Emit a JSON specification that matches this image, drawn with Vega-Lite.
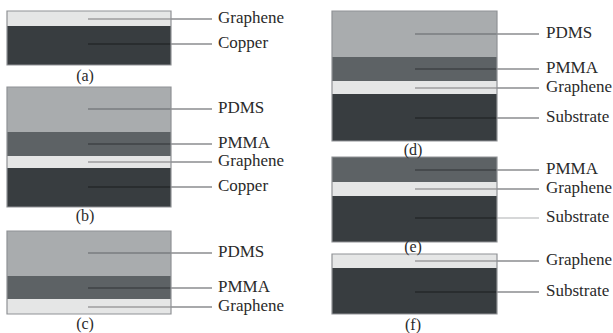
{
  "$schema": "https://vega.github.io/schema/vega-lite/v6.json",
  "width": 613,
  "height": 333,
  "autosize": {"type": "fit", "contains": "padding"},
  "padding": 0,
  "background": "#ffffff",
  "config": {"view": {"stroke": null}},
  "datasets": {
    "layers": [
      {"panel": "a", "layer": "Graphene", "x0": 7, "x1": 171, "y0": 11, "y1": 26},
      {"panel": "a", "layer": "Copper", "x0": 7, "x1": 171, "y0": 26, "y1": 65},
      {"panel": "b", "layer": "PDMS", "x0": 7, "x1": 171, "y0": 87, "y1": 132},
      {"panel": "b", "layer": "PMMA", "x0": 7, "x1": 171, "y0": 132, "y1": 156},
      {"panel": "b", "layer": "Graphene", "x0": 7, "x1": 171, "y0": 156, "y1": 168},
      {"panel": "b", "layer": "Copper", "x0": 7, "x1": 171, "y0": 168, "y1": 207},
      {"panel": "c", "layer": "PDMS", "x0": 7, "x1": 171, "y0": 231, "y1": 276},
      {"panel": "c", "layer": "PMMA", "x0": 7, "x1": 171, "y0": 276, "y1": 299},
      {"panel": "c", "layer": "Graphene", "x0": 7, "x1": 171, "y0": 299, "y1": 314},
      {"panel": "d", "layer": "PDMS", "x0": 332, "x1": 497, "y0": 11, "y1": 57},
      {"panel": "d", "layer": "PMMA", "x0": 332, "x1": 497, "y0": 57, "y1": 81},
      {"panel": "d", "layer": "Graphene", "x0": 332, "x1": 497, "y0": 81, "y1": 94},
      {"panel": "d", "layer": "Substrate", "x0": 332, "x1": 497, "y0": 94, "y1": 141},
      {"panel": "e", "layer": "PMMA", "x0": 332, "x1": 497, "y0": 157, "y1": 182},
      {"panel": "e", "layer": "Graphene", "x0": 332, "x1": 497, "y0": 182, "y1": 196},
      {"panel": "e", "layer": "Substrate", "x0": 332, "x1": 497, "y0": 196, "y1": 242},
      {"panel": "f", "layer": "Graphene", "x0": 332, "x1": 497, "y0": 254, "y1": 268},
      {"panel": "f", "layer": "Substrate", "x0": 332, "x1": 497, "y0": 268, "y1": 314}
    ],
    "panels": [
      {"panel": "a", "x0": 7, "x1": 171, "y0": 11, "y1": 65, "caption": "(a)", "cx": 85, "cy": 76},
      {"panel": "b", "x0": 7, "x1": 171, "y0": 87, "y1": 207, "caption": "(b)", "cx": 85, "cy": 216},
      {"panel": "c", "x0": 7, "x1": 171, "y0": 231, "y1": 314, "caption": "(c)", "cx": 85, "cy": 324},
      {"panel": "d", "x0": 332, "x1": 497, "y0": 11, "y1": 141, "caption": "(d)", "cx": 413, "cy": 150},
      {"panel": "e", "x0": 332, "x1": 497, "y0": 157, "y1": 242, "caption": "(e)", "cx": 413, "cy": 247},
      {"panel": "f", "x0": 332, "x1": 497, "y0": 254, "y1": 314, "caption": "(f)", "cx": 413, "cy": 325}
    ],
    "leaders": [
      {"panel": "a", "label": "Graphene", "y": 19, "xs": 88, "xr": 171, "xe": 212, "xt": 218},
      {"panel": "a", "label": "Copper", "y": 44, "xs": 88, "xr": 171, "xe": 212, "xt": 218},
      {"panel": "b", "label": "PDMS", "y": 109, "xs": 88, "xr": 171, "xe": 212, "xt": 218},
      {"panel": "b", "label": "PMMA", "y": 144, "xs": 88, "xr": 171, "xe": 212, "xt": 218},
      {"panel": "b", "label": "Graphene", "y": 162, "xs": 88, "xr": 171, "xe": 212, "xt": 218},
      {"panel": "b", "label": "Copper", "y": 187, "xs": 88, "xr": 171, "xe": 212, "xt": 218},
      {"panel": "c", "label": "PDMS", "y": 253, "xs": 88, "xr": 171, "xe": 212, "xt": 218},
      {"panel": "c", "label": "PMMA", "y": 288, "xs": 88, "xr": 171, "xe": 212, "xt": 218},
      {"panel": "c", "label": "Graphene", "y": 307, "xs": 88, "xr": 171, "xe": 212, "xt": 218},
      {"panel": "d", "label": "PDMS", "y": 34, "xs": 415, "xr": 497, "xe": 539, "xt": 546},
      {"panel": "d", "label": "PMMA", "y": 69, "xs": 415, "xr": 497, "xe": 539, "xt": 546},
      {"panel": "d", "label": "Graphene", "y": 88, "xs": 415, "xr": 497, "xe": 539, "xt": 546},
      {"panel": "d", "label": "Substrate", "y": 118, "xs": 415, "xr": 497, "xe": 539, "xt": 546},
      {"panel": "e", "label": "PMMA", "y": 170, "xs": 415, "xr": 497, "xe": 539, "xt": 546},
      {"panel": "e", "label": "Graphene", "y": 189, "xs": 415, "xr": 497, "xe": 539, "xt": 546},
      {"panel": "e", "label": "Substrate", "y": 218, "xs": 415, "xr": 497, "xe": 539, "xt": 546},
      {"panel": "f", "label": "Graphene", "y": 261, "xs": 415, "xr": 497, "xe": 539, "xt": 546},
      {"panel": "f", "label": "Substrate", "y": 292, "xs": 415, "xr": 497, "xe": 539, "xt": 546}
    ]
  },
  "layer": [
    {
      "data": {"name": "layers"},
      "mark": {"type": "rect", "strokeWidth": 0},
      "encoding": {
        "x": {"field": "x0", "type": "quantitative", "scale": {"domain": [0, 613], "nice": false, "zero": false}, "axis": null},
        "x2": {"field": "x1"},
        "y": {"field": "y0", "type": "quantitative", "scale": {"domain": [0, 333], "nice": false, "zero": false, "reverse": true}, "axis": null},
        "y2": {"field": "y1"},
        "fill": {"field": "layer", "type": "nominal", "legend": null,
          "scale": {"domain": ["Graphene", "Copper", "PDMS", "PMMA", "Substrate"], "range": ["#e5e6e6", "#383d40", "#a9acae", "#5d6265", "#383d40"]}}
      }
    },
    {
      "data": {"name": "leaders"},
      "mark": {"type": "rule", "strokeWidth": 1.5},
      "encoding": {
        "x": {"field": "xs", "type": "quantitative"},
        "x2": {"field": "xr"},
        "y": {"field": "y", "type": "quantitative"},
        "stroke": {"field": "label", "type": "nominal", "legend": null,
          "scale": {"domain": ["Graphene", "Copper", "PDMS", "PMMA", "Substrate"], "range": ["#9c9d9e", "#24282a", "#7a7d7f", "#3f4346", "#24282a"]}}
      }
    },
    {
      "data": {"name": "leaders"},
      "mark": {"type": "rule", "strokeWidth": 1.5},
      "encoding": {
        "x": {"field": "xr", "type": "quantitative"},
        "x2": {"field": "xe"},
        "y": {"field": "y", "type": "quantitative"},
        "stroke": {"condition": {"test": "datum.panel === 'e' && datum.label === 'Substrate'", "value": "#c9cacb"}, "value": "#8b8d8f"}
      }
    },
    {
      "data": {"name": "panels"},
      "mark": {"type": "rect", "fill": null, "stroke": "#8f9295", "strokeWidth": 1.2},
      "encoding": {
        "x": {"field": "x0", "type": "quantitative"},
        "x2": {"field": "x1"},
        "y": {"field": "y0", "type": "quantitative"},
        "y2": {"field": "y1"}
      }
    },
    {
      "data": {"name": "leaders"},
      "mark": {"type": "text", "align": "left", "baseline": "middle", "font": "Liberation Serif", "fontSize": 17, "color": "#2a2a2a", "dy": -1.5},
      "encoding": {
        "x": {"field": "xt", "type": "quantitative"},
        "y": {"field": "y", "type": "quantitative"},
        "text": {"field": "label"}
      }
    },
    {
      "data": {"name": "panels"},
      "mark": {"type": "text", "align": "center", "baseline": "middle", "font": "Liberation Serif", "fontSize": 16, "color": "#2a2a2a"},
      "encoding": {
        "x": {"field": "cx", "type": "quantitative"},
        "y": {"field": "cy", "type": "quantitative"},
        "text": {"field": "caption"}
      }
    }
  ]
}
